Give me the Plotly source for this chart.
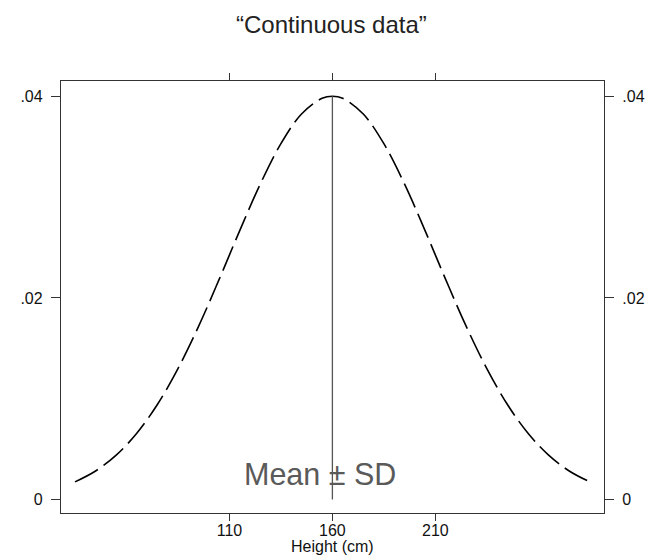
import plotly.graph_objects as go

# Curve values (x in cm, y density)
x_vals = [35, 45, 55, 65, 75, 85, 95, 105, 115, 125, 135, 145, 155, 160,
          165, 175, 185, 195, 205, 215, 225, 235, 245, 255, 265, 275, 285]
y_vals = [0.00176, 0.00284, 0.00441, 0.00658, 0.00943, 0.01299, 0.01718, 0.02184,
          0.02668, 0.03131, 0.03530, 0.03824, 0.03980, 0.04000,
          0.03980, 0.03824, 0.03530, 0.03131, 0.02668, 0.02184, 0.01718, 0.01299,
          0.00943, 0.00658, 0.00441, 0.00284, 0.00176]

mean_x = [160, 160]
mean_y = [0, 0.04]

x_ticks = [110, 160, 210]
x_tick_text = ["110", "160", "210"]
y_ticks = [0, 0.02, 0.04]
y_tick_text = ["0", ".02", ".04"]

title_text = "\u201cContinuous data\u201d"
x_title = "Height (cm)"
label_text = "Mean \u00b1 SD"

FONT = "Liberation Sans, Arial, sans-serif"
XR = [28.2, 291.9]
YR = [-0.00133, 0.04152]

W, H = 649, 548  # page body has an 8px margin
fig = go.Figure()
fig.add_trace(go.Scatter(x=x_vals, y=y_vals, mode="lines",
                         line=dict(color="black", width=1.6, dash="26px,7px", shape="spline"),
                         hoverinfo="skip", showlegend=False))
fig.add_trace(go.Scatter(x=mean_x, y=mean_y, mode="lines",
                         line=dict(color="#555555", width=1.3),
                         hoverinfo="skip", showlegend=False))
# invisible trace to activate the right-hand y axis
fig.add_trace(go.Scatter(x=x_vals, y=y_vals, mode="lines", yaxis="y2",
                         line=dict(color="rgba(0,0,0,0)", width=0),
                         hoverinfo="skip", showlegend=False))

axis_common = dict(showgrid=False, zeroline=False, showline=True,
                   linecolor="#333333", linewidth=1.3,
                   ticks="outside", tickcolor="#333333", tickwidth=1.2,
                   tickfont=dict(family=FONT, size=16, color="#111111"))

fig.update_layout(
    width=W, height=H,
    margin=dict(l=44, r=53, t=73, b=43),
    paper_bgcolor="white", plot_bgcolor="white",
    title=dict(text=title_text, x=0.498, xref="paper", y=1 - 17/H, yanchor="middle",
               font=dict(family=FONT, size=24, color="#222222")),
    xaxis=dict(range=XR, tickvals=x_ticks, ticktext=x_tick_text, ticklen=7,
               ticklabelstandoff=-4, mirror="ticks", **axis_common),
    yaxis=dict(range=YR, tickvals=y_ticks, ticktext=y_tick_text, ticklen=9,
               ticklabelstandoff=5, mirror=True, **axis_common),
    yaxis2=dict(range=YR, tickvals=y_ticks, ticktext=y_tick_text, ticklen=9,
                ticklabelstandoff=5, overlaying="y", side="right", **axis_common),
    showlegend=False,
)

fig.add_annotation(x=154, y=0.0025, xref="x", yref="y", text=label_text,
                   showarrow=False, xanchor="center", yanchor="middle",
                   font=dict(family=FONT, size=30.5, color="#5a5a5a"))
fig.add_annotation(x=0.5, y=-0.0775, xref="paper", yref="paper",
                   text=x_title, showarrow=False, xanchor="center", yanchor="middle",
                   font=dict(family=FONT, size=16, color="#111111"))

fig.write_html("out.html")
